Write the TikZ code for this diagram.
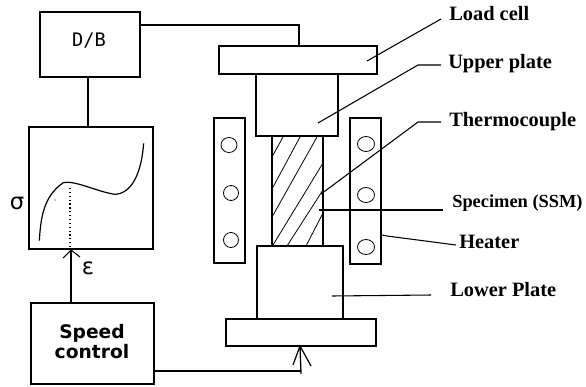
\documentclass[tikz,border=0pt]{standalone}
\usepackage{fontspec}
\setmainfont{Liberation Serif}
\newfontfamily\dejasans{DejaVu Sans}
\newfontfamily\monofam{DejaVu Sans Mono}
\usetikzlibrary{calc,arrows.meta}
\tikzset{
	block/.style={draw=black, line width=1pt, inner sep=0pt, outer sep=0pt},
	lead/.style={line width=0.8pt},
	part/.style={anchor=west, inner sep=0pt, font=\bfseries\fontsize{15.3}{17}\selectfont},
	hatch/.style={line width=0.6pt},
	coil/.style={line width=0.6pt},
}
\def\blocknode(#1)(#2,#3)(#4,#5){\node[block, minimum width={(#4-#2)*0.75pt}, minimum height={(#5-#3)*0.75pt}] (#1) at ({(#2+#4)/2},{(#3+#5)/2}) {};}

\begin{document}
\begin{tikzpicture}[x=0.75pt, y=-0.75pt]
		\useasboundingbox (0, 0) rectangle (586, 386);
		%%%%% START %%%%%
		
		\blocknode(db)(40, 12)(140, 77);
		\blocknode(chart)(29, 127)(153, 249);
		\blocknode(speed)(31, 303)(154, 384);
		
		\node[inner sep=0pt, font=\monofam\fontsize{14}{14}\selectfont] (dbtext) at (89, 41) {D/B};
		\node[inner sep=0pt, align=center, font=\dejasans\bfseries\fontsize{14}{15}\selectfont] (speedtext) at (92, 342) {Speed\\control};
		\node[inner sep=0pt, font=\dejasans\fontsize{17}{17}\selectfont] (sigma) at (17, 203) {σ};
		\node[inner sep=0pt, font=\dejasans\fontsize{17}{17}\selectfont] (eps) at (88, 268) {ε};
		
		\draw[line width=0.9pt] (118/3, 722/3) .. controls (122/3, 660/3) and (128/3, 590/3) .. (190/3, 548/3)
			.. controls (225/3, 540/3) and (290/3, 575/3) .. (345/3, 583/3)
			.. controls (400/3, 580/3) and (425/3, 510/3) .. (431/3, 430/3);
		\draw[line width=0.9pt, dotted] (70, 188) -- (70, 248);
		\fill (55, 200) circle (0.6);
		
		\blocknode(loadcell)(219, 46)(377, 74);
		\blocknode(upper)(256, 74)(338, 136);
		\blocknode(specimen)(272, 136)(323, 246);
		\blocknode(lower)(257, 246)(343, 319);
		\blocknode(base)(226, 319)(376, 346);
		
		\draw[hatch] (272, 157) -- (283, 137);
		\draw[hatch] (272, 189) -- (300, 137);
		\draw[hatch] (272, 217) -- (317, 137);
		\draw[hatch] (273, 245) -- (323, 163);
		\draw[hatch] (287, 246) -- (323, 190);
		\draw[hatch] (306, 246) -- (323, 213);
		
		\blocknode(heaterl)(214, 118)(245, 263);
		\blocknode(heaterr)(350, 118)(381, 264);
		\draw[coil] (229, 145) ellipse (8 and 7.5);
		\draw[coil] (231, 193) ellipse (7.5 and 7.5);
		\draw[coil] (231, 240) ellipse (7.5 and 7.5);
		\draw[coil] (366, 144) ellipse (8.5 and 7.5);
		\draw[coil] (366, 195) ellipse (8.5 and 7.5);
		\draw[coil] (366, 247) ellipse (8.5 and 7.5);
		
		\draw[block] (db.east |- 0, 25) -- (299, 25) -- (299, 46);
		\draw[block] (db.south -| 88, 0) -- (88, 127);
		\draw[block] (71, 303) -- (71, 250);
		\draw[line width=0.8pt] (63, 258) -- (71, 250) -- (80, 257);
		\draw[block] (speed.east |- 0, 371) -- (301, 371);
		\draw[block] (301, 374) -- (300, 346);
		\draw[line width=0.9pt] (293, 365) -- (300, 346) -- (311, 366);
		
		\node[part] (loadtext) at (449, 14) {Load cell};
		\node[part] (uppertext) at (448, 64) {Upper plate};
		\node[part] (thermotext) at (449, 122) {Thermocouple};
		\node[part, font=\bfseries\fontsize{13.8}{15}\selectfont] (spectext) at (452, 203) {Specimen (SSM)};
		\node[part] (heatertext) at (459, 242) {Heater};
		\node[part] (lowertext) at (450, 290) {Lower Plate};
		
		\coordinate (loadtip) at (367, 61);
		\coordinate (uppertip) at (318, 123);
		\coordinate (thermotip) at (321, 194);
		\coordinate (spectip) at (319, 210);
		\coordinate (heatertip) at (382, 235);
		\coordinate (lowertip) at (332, 296);
		
		\draw[lead] (loadtip) -- (441, 19);
		\draw[lead] (uppertip) -- (418, 65) -- (441, 65);
		\draw[lead] (thermotip) -- (418, 122) -- (441, 122);
		\draw[lead] (spectip) -- (443, 210);
		\draw[lead] (heatertip) -- (387, 236) -- (456, 245);
		\draw[lead] (lowertip) -- (431, 295);
		
		%%%%% END %%%%%
	\end{tikzpicture}
\end{document}
